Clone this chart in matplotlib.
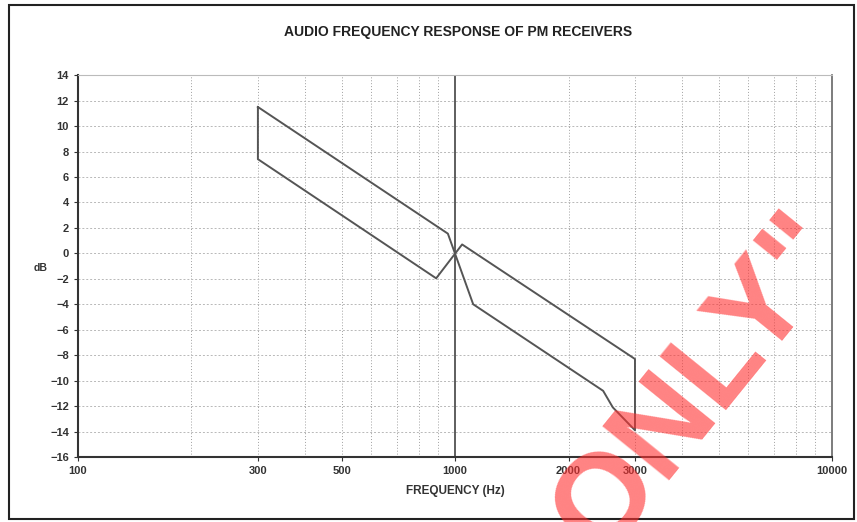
import numpy as np
import matplotlib
matplotlib.use('Agg')
from matplotlib import pyplot as plt
from matplotlib.patches import Rectangle

plt.rcParams['font.family'] = ['Liberation Sans', 'DejaVu Sans']

# data (Hz, dB)
curve_a_freq = [300, 957, 1117, 2470, 2620, 3000]
curve_a_db = [11.5, 1.55, -4.0, -10.8, -12.1, -13.9]
curve_b_freq = [300, 891, 1044, 3000]
curve_b_db = [7.4, -1.96, 0.7, -8.3]

x_ticks = [100, 300, 500, 1000, 2000, 3000, 10000]
y_ticks = list(range(-16, 15, 2))

fig = plt.figure(figsize=(8.57, 5.22), dpi=100)
ax = fig.add_axes([0.091, 0.1245, 0.880, 0.7315])

# vertical grid at every 100 / 1000 Hz
minor = [f for f in range(200, 1000, 100)] + [f for f in range(2000, 10000, 1000)]
for f in minor:
    ax.axvline(f, color='#a0a0a0', lw=0.7, ls=(0, (1, 2)), zorder=1)
for y in y_ticks[1:-1]:
    ax.axhline(y, color='#b8b8b8', lw=0.7, ls=(0, (2, 2)), zorder=1)
ax.axvline(1000, color='#333333', lw=1.1, zorder=2)

# closed outline: curve a forward, curve b backward
fx = curve_a_freq + curve_b_freq[::-1] + [curve_a_freq[0]]
fy = curve_a_db + curve_b_db[::-1] + [curve_a_db[0]]
ax.plot(fx, fy, color='#555555', lw=1.4, zorder=3)

ax.set_xscale('log')
ax.set_xlim(100, 10000)
ax.set_ylim(-16, 14)
ax.set_xticks(x_ticks)
ax.set_xticklabels([str(t) for t in x_ticks])
ax.xaxis.set_minor_locator(matplotlib.ticker.NullLocator())
ax.set_yticks(y_ticks)
ax.tick_params(labelsize=8, colors='#333333', length=3, width=0.8)
for lab in ax.get_xticklabels() + ax.get_yticklabels():
    lab.set_fontweight('bold')

for s in ['left', 'bottom']:
    ax.spines[s].set_color('#333333')
    ax.spines[s].set_linewidth(1.5)
ax.spines['top'].set_color('#bbbbbb')
ax.spines['right'].set_color('#666666')
ax.spines['right'].set_linewidth(1.2)

fig.text(0.534, 0.938, 'AUDIO FREQUENCY RESPONSE OF PM RECEIVERS',
         ha='center', va='center', fontsize=10, fontweight='bold', color='#222222')
fig.text(0.531, 0.059, 'FREQUENCY (Hz)', ha='center', va='center',
         fontsize=8.5, fontweight='bold', color='#333333')
fig.text(0.047, 0.486, 'dB', ha='center', va='center',
         fontsize=7.5, fontweight='bold', color='#333333')

# figure border
fig.patches.append(Rectangle((0.011, 0.006), 0.986, 0.984, transform=fig.transFigure,
                             fill=False, ec='#222222', lw=1.5))

# watermark
fig.text(0.818, 0.265, 'ONLY"', ha='center', va='center', rotation=51,
         fontsize=90, fontweight='bold', color='#ff3030', alpha=0.6, zorder=10)

fig.savefig('out.png', dpi=100)
